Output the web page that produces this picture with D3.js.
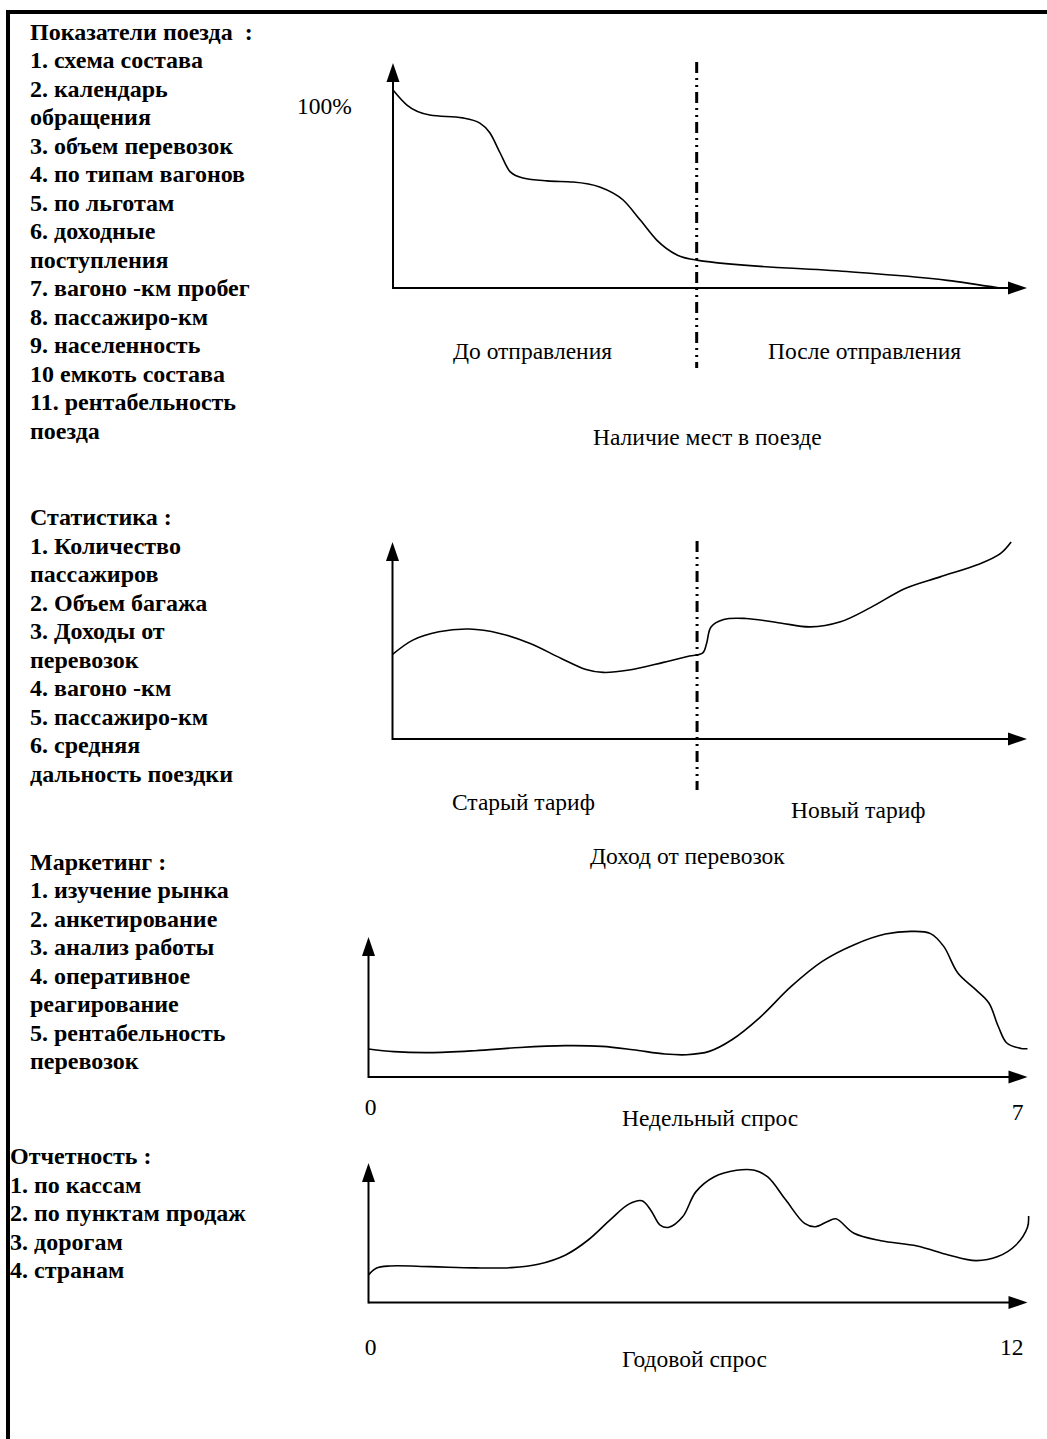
<!DOCTYPE html>
<html>
<head>
<meta charset="utf-8">
<script src="https://cdnjs.cloudflare.com/ajax/libs/d3/7.8.5/d3.min.js"></script>
<style>
body { margin: 0; background: #fff; }
svg { display: block; }
.list { font-family: "Liberation Serif", "Times New Roman", serif; font-weight: bold; font-size: 24px; white-space: pre; }
.lbl { font-family: "Liberation Serif", "Times New Roman", serif; font-size: 23.5px; }
</style>
</head>
<body>
<script>
// ---- data ----
// lists on the left
var trainList = ["Показатели поезда  :", "1. схема состава", "2. календарь", "обращения",
    "3. объем перевозок", "4. по типам вагонов", "5. по льготам", "6. доходные",
    "поступления", "7. вагоно -км пробег", "8. пассажиро-км", "9. населенность",
    "10 емкоть состава", "11. рентабельность", "поезда"];
var statList = ["Статистика :", "1. Количество", "пассажиров", "2. Объем багажа",
    "3. Доходы от", "перевозок", "4. вагоно -км", "5. пассажиро-км", "6. средняя",
    "дальность поездки"];
var marketList = ["Маркетинг :", "1. изучение рынка", "2. анкетирование", "3. анализ работы",
    "4. оперативное", "реагирование", "5. рентабельность", "перевозок"];
var reportList = ["Отчетность :", "1. по кассам", "2. по пунктам продаж", "3. дорогам", "4. странам"];

// chart 1: seats available (x = % of time line, y = % of seats)
var seatsX = [0, 2.2, 5.8, 11.0, 13.7, 15.3, 16.9, 18.5, 20.5, 24.3, 28.4, 32.6,
    36.3, 39.0, 41.6, 44.8, 47.9, 71.6, 87.4, 95.7];
var seatsY = [88, 81.3, 76.9, 75.6, 73.3, 68.9, 60, 51.6, 48.9, 47.6, 47.1, 44.9,
    39.1, 30.2, 21.3, 14.7, 12.4, 7.3, 3.4, 0];
var seatsSplit = 47.9;

// chart 2: income from transport (old / new tariff)
var incomeX = [0, 3.2, 7.3, 12.1, 16.9, 21.7, 26.6, 30.5, 33.2, 37.3, 42.7, 46.8, 48.9,
    49.5, 50.2, 52.2, 55.7, 61.1, 65.8, 70.6, 75.4, 80.8, 86.3, 92.4, 95.8, 97.5];
var incomeY = [42.9, 50.2, 54.4, 55.8, 53.6, 48.5, 40.9, 35.3, 33.8, 35.0, 38.9, 42.1, 43.7,
    48.5, 56.9, 60.7, 61.2, 58.9, 56.9, 59.5, 66.8, 76.4, 82.3, 88.7, 94.1, 100];
var incomeSplit = 48.0;

// chart 3: weekly demand, days 0..7
var weekX = [0, 0.27, 0.65, 1.13, 1.61, 2.09, 2.48, 2.81, 3.15, 3.38, 3.62, 3.86, 4.15,
    4.49, 4.82, 5.16, 5.49, 5.78, 5.97, 6.11, 6.26, 6.45, 6.59, 6.69, 6.78, 6.93, 7.0];
var weekY = [20, 18.1, 17.4, 18.8, 21.1, 22.4, 21.9, 19.5, 16.4, 15.9, 18.3, 26.6, 42.1,
    64.7, 82.6, 94.5, 102.1, 104, 102.4, 93.3, 74.3, 62.4, 52.9, 36.1, 24.3, 20.4, 20.2];
var weekTicks = [0, 7];

// chart 4: yearly demand, months 0..12
var yearX = [0, 0.14, 0.39, 1.12, 1.94, 2.6, 3.09, 3.59, 4.0, 4.41, 4.74, 4.98, 5.14,
    5.31, 5.47, 5.72, 5.96, 6.29, 6.7, 7.03, 7.27, 7.6, 7.94, 8.14, 8.35, 8.51, 8.84,
    9.33, 9.99, 10.56, 11.06, 11.46, 11.79, 12.0, 12.02];
var yearY = [19.8, 24.6, 26.2, 25.7, 24.8, 25, 27.4, 34.1, 44.8, 59.6, 70.5, 72.9, 66.2,
    55.5, 53.9, 61.4, 79.3, 90, 94.8, 94.8, 90, 73.4, 56.7, 54.3, 57.9, 60, 49.6,
    44.3, 40.5, 34.1, 30, 32.9, 41.2, 53.9, 62];
var yearTicks = [0, 12];

// ---- layout ----
var W = 1047, H = 1439;

var svg = d3.select("body").append("svg")
    .attr("width", W)
    .attr("height", H);

// thick frame on top and left
svg.append("line").attr("x1", 6).attr("y1", 12).attr("x2", W).attr("y2", 12)
    .style("stroke", "#000").style("stroke-width", 4);
svg.append("line").attr("x1", 8).attr("y1", 10).attr("x2", 8).attr("y2", H)
    .style("stroke", "#000").style("stroke-width", 4);

// the bold lists
var lists = [
    {lines: trainList, x: 30, y: 39.5},
    {lines: statList, x: 30, y: 525},
    {lines: marketList, x: 30, y: 869.5},
    {lines: reportList, x: 10, y: 1164}
];
var lineStep = 28.5;

lists.forEach(function(l) {
    svg.append("g").selectAll("text")
        .data(l.lines)
        .enter()
        .append("text")
        .attr("class", "list")
        .attr("x", l.x)
        .attr("y", function(d, i) { return l.y + i * lineStep; })
        .text(function(d) { return d; });
});

var charts = [
    {xs: seatsX, ys: seatsY, domain: [0, 100], left: 393, right: 1027, top: 63, bottom: 288,
        split: seatsSplit, splitTop: 62, splitBottom: 368, curve: d3.curveMonotoneX},
    {xs: incomeX, ys: incomeY, domain: [0, 100], left: 392.5, right: 1027, top: 542, bottom: 739,
        split: incomeSplit, splitTop: 541, splitBottom: 790, curve: d3.curveCatmullRom.alpha(0.5)},
    {xs: weekX, ys: weekY, domain: [0, 7], left: 368.5, right: 1027.5, top: 937, bottom: 1077,
        ticks: weekTicks, tickY: [1115, 1120], curve: d3.curveCatmullRom.alpha(0.5)},
    {xs: yearX, ys: yearY, domain: [0, 12], left: 368.5, right: 1027.5, top: 1163, bottom: 1302.5,
        ticks: yearTicks, tickY: [1355, 1355], curve: d3.curveCatmullRom.alpha(0.5)}
];

var arrowLen = 19, arrowHalf = 6.5;

charts.forEach(function(c) {
    var x = d3.scaleLinear().domain(c.domain).range([c.left, c.right]);
    var y = d3.scaleLinear().domain([0, 100]).range([c.bottom, c.top]);
    var g = svg.append("g");

    // axes with arrow heads
    g.append("line")
        .attr("x1", c.left).attr("y1", c.bottom)
        .attr("x2", c.right - arrowLen + 1).attr("y2", c.bottom)
        .style("stroke", "#000").style("stroke-width", 2);
    g.append("line")
        .attr("x1", c.left).attr("y1", c.bottom + 1)
        .attr("x2", c.left).attr("y2", c.top + arrowLen - 1)
        .style("stroke", "#000").style("stroke-width", 2);
    g.append("path")
        .attr("d", "M" + c.right + "," + c.bottom + "L" + (c.right - arrowLen) + "," + (c.bottom - arrowHalf)
            + "L" + (c.right - arrowLen) + "," + (c.bottom + arrowHalf) + "Z")
        .style("fill", "#000");
    g.append("path")
        .attr("d", "M" + c.left + "," + c.top + "L" + (c.left - arrowHalf) + "," + (c.top + arrowLen)
            + "L" + (c.left + arrowHalf) + "," + (c.top + arrowLen) + "Z")
        .style("fill", "#000");

    // dash-dot divider
    if (c.split != null) {
        g.append("line")
            .attr("x1", x(c.split)).attr("y1", c.splitTop)
            .attr("x2", x(c.split)).attr("y2", c.splitBottom)
            .style("stroke", "#000").style("stroke-width", 3)
            .style("stroke-dasharray", "11,5,2,5,2,5");
    }

    var pts = c.xs.map(function(v, i) { return [v, c.ys[i]]; });
    var line = d3.line()
        .x(function(d) { return x(d[0]); })
        .y(function(d) { return y(d[1]); })
        .curve(c.curve);
    g.append("path")
        .datum(pts)
        .attr("d", line)
        .style("fill", "none")
        .style("stroke", "#000")
        .style("stroke-width", 1.6);

    if (c.ticks) {
        g.append("text").attr("class", "lbl")
            .attr("x", x(c.ticks[0]) + 2).attr("y", c.tickY[0])
            .attr("text-anchor", "middle")
            .text(c.ticks[0]);
        g.append("text").attr("class", "lbl")
            .attr("x", x(c.ticks[1]) - 4).attr("y", c.tickY[1])
            .attr("text-anchor", "end")
            .text(c.ticks[1]);
    }
});

// captions
var captions = [
    {t: "100%", x: 297, y: 114},
    {t: "До отправления", x: 453, y: 359},
    {t: "После отправления", x: 768, y: 359},
    {t: "Наличие мест в поезде", x: 593, y: 445},
    {t: "Старый тариф", x: 452, y: 810},
    {t: "Новый тариф", x: 791, y: 818},
    {t: "Доход от перевозок", x: 590, y: 864},
    {t: "Недельный спрос", x: 622, y: 1126},
    {t: "Годовой спрос", x: 622, y: 1366.5}
];

svg.append("g").selectAll("text")
    .data(captions)
    .enter()
    .append("text")
    .attr("class", "lbl")
    .attr("x", function(d) { return d.x; })
    .attr("y", function(d) { return d.y; })
    .text(function(d) { return d.t; });
</script>
</body>
</html>
